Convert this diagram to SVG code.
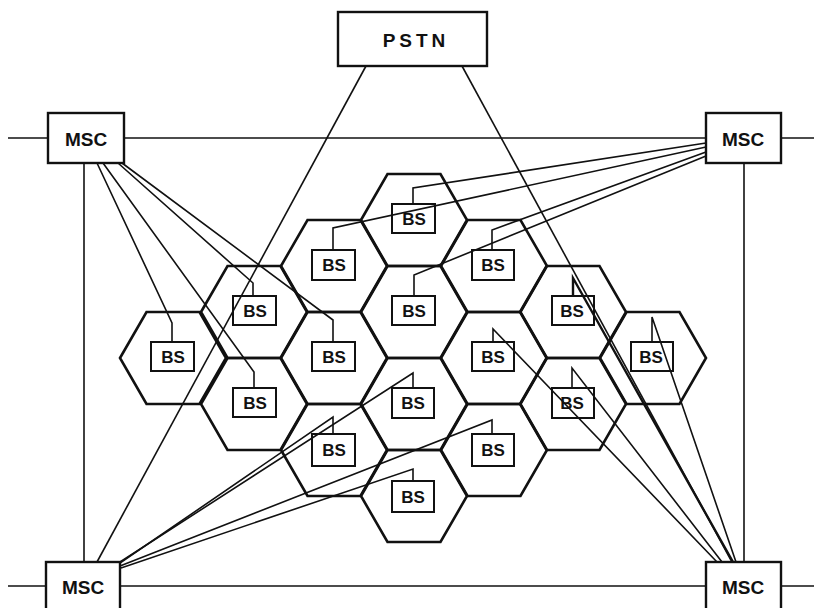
<svg xmlns="http://www.w3.org/2000/svg" xmlns:xlink="http://www.w3.org/1999/xlink" width="814" height="608" viewBox="0 0 814 608">
<style>
.box{fill:#fff;stroke:#111;stroke-width:2.4}
.hex{fill:none;stroke:#111;stroke-width:2.6;stroke-linejoin:miter}
.bs{fill:#fff;stroke:#111;stroke-width:2}
.ln{fill:none;stroke:#111;stroke-width:1.6}
.lnb{fill:none;stroke:#111;stroke-width:2.4}
.t{font-family:"Liberation Sans",Arial,sans-serif;font-weight:bold;fill:#111;text-anchor:middle}
.tb{font-size:17px}
.tm{font-size:19px}
.tp{font-size:19px;letter-spacing:4px}
</style>
<defs>
<path id="hx" d="M-53,0 L-26.5,-46 L26.5,-46 L53,0 L26.5,46 L-26.5,46 Z"/>
</defs>
<rect width="814" height="608" fill="#fff"/>

<!-- hexagonal cells -->
<g id="cells">
<use xlink:href="#hx" href="#hx" class="hex" x="173" y="358"/>
<use xlink:href="#hx" href="#hx" class="hex" x="254" y="312"/>
<use xlink:href="#hx" href="#hx" class="hex" x="254" y="404"/>
<use xlink:href="#hx" href="#hx" class="hex" x="334" y="266"/>
<use xlink:href="#hx" href="#hx" class="hex" x="334" y="358"/>
<use xlink:href="#hx" href="#hx" class="hex" x="334" y="450"/>
<use xlink:href="#hx" href="#hx" class="hex" x="414" y="220"/>
<use xlink:href="#hx" href="#hx" class="hex" x="414" y="312"/>
<use xlink:href="#hx" href="#hx" class="hex" x="414" y="404"/>
<use xlink:href="#hx" href="#hx" class="hex" x="414" y="496"/>
<use xlink:href="#hx" href="#hx" class="hex" x="494" y="266"/>
<use xlink:href="#hx" href="#hx" class="hex" x="494" y="358"/>
<use xlink:href="#hx" href="#hx" class="hex" x="494" y="450"/>
<use xlink:href="#hx" href="#hx" class="hex" x="573" y="312"/>
<use xlink:href="#hx" href="#hx" class="hex" x="573" y="404"/>
<use xlink:href="#hx" href="#hx" class="hex" x="653" y="358"/>
</g>

<!-- base stations -->
<g id="bs-173-358"><rect class="bs" x="151" y="342" width="43" height="29"/><text class="t tb" x="173" y="363">BS</text></g>
<g id="bs-254-312"><rect class="bs" x="233" y="296" width="43" height="29"/><text class="t tb" x="255" y="317">BS</text></g>
<g id="bs-254-404"><rect class="bs" x="233" y="388" width="43" height="29"/><text class="t tb" x="255" y="409">BS</text></g>
<g id="bs-334-266"><rect class="bs" x="312" y="250" width="43" height="30"/><text class="t tb" x="334" y="271">BS</text></g>
<g id="bs-334-358"><rect class="bs" x="312" y="342" width="43" height="29"/><text class="t tb" x="334" y="363">BS</text></g>
<g id="bs-334-450"><rect class="bs" x="312" y="434" width="43" height="32"/><text class="t tb" x="334" y="456">BS</text></g>
<g id="bs-414-220"><rect class="bs" x="392" y="204" width="43" height="29"/><text class="t tb" x="414" y="225">BS</text></g>
<g id="bs-414-312"><rect class="bs" x="392" y="296" width="43" height="29"/><text class="t tb" x="414" y="317">BS</text></g>
<g id="bs-414-404"><rect class="bs" x="392" y="388" width="42" height="30"/><text class="t tb" x="413" y="409">BS</text></g>
<g id="bs-414-496"><rect class="bs" x="392" y="481" width="42" height="31"/><text class="t tb" x="413" y="503">BS</text></g>
<g id="bs-494-266"><rect class="bs" x="472" y="250" width="42" height="30"/><text class="t tb" x="493" y="271">BS</text></g>
<g id="bs-494-358"><rect class="bs" x="472" y="342" width="42" height="29"/><text class="t tb" x="493" y="363">BS</text></g>
<g id="bs-494-450"><rect class="bs" x="472" y="434" width="42" height="32"/><text class="t tb" x="493" y="456">BS</text></g>
<g id="bs-573-312"><rect class="bs" x="552" y="296" width="42" height="29"/><text class="t tb" x="572" y="317">BS</text></g>
<g id="bs-573-404"><rect class="bs" x="552" y="388" width="42" height="30"/><text class="t tb" x="572" y="409">BS</text></g>
<g id="bs-653-358"><rect class="bs" x="631" y="342" width="42" height="29"/><text class="t tb" x="651" y="363">BS</text></g>

<!-- connectors -->
<g id="connectors">
<!-- MSC ring -->
<line class="ln" x1="8" y1="138" x2="48" y2="138"/>
<line class="ln" x1="124" y1="138" x2="706" y2="138"/>
<line class="ln" x1="781" y1="138" x2="814" y2="138"/>
<line class="ln" x1="8" y1="586" x2="46" y2="586"/>
<line class="ln" x1="120" y1="586" x2="706" y2="586"/>
<line class="ln" x1="781" y1="586" x2="814" y2="586"/>
<line class="ln" x1="84" y1="163" x2="84" y2="562"/>
<line class="ln" x1="744" y1="163" x2="744" y2="562"/>
<!-- PSTN links -->
<line class="ln" x1="366" y1="66" x2="97" y2="562"/>
<line class="ln" x1="462" y1="66" x2="732" y2="562"/>
<!-- top-left MSC -->
<polyline class="ln" points="172,342 172,323 97,163"/>
<polyline class="ln" points="254,388 254,372 103,163"/>
<polyline class="ln" points="253,296 253,283 118,163"/>
<polyline class="ln" points="333,342 333,320 122,163"/>
<!-- top-right MSC -->
<polyline class="ln" points="413,204 413,188 706,143"/>
<polyline class="ln" points="333,250 333,228 706,147"/>
<polyline class="ln" points="492,250 492,230 706,152"/>
<polyline class="ln" points="414,296 414,275 706,156"/>
<!-- bottom-left MSC -->
<polyline class="ln" points="413,388 413,373 120,562"/>
<polyline class="ln" points="333,434 333,417 120,563"/>
<polyline class="ln" points="492,434 492,420 120,566"/>
<polyline class="ln" points="413,481 413,469 121,568"/>
<!-- bottom-right MSC -->
<polyline class="lnb" points="573,296 573,278 733,562"/>
<polyline class="ln" points="493,342 493,329 717,562"/>
<polyline class="ln" points="572,388 572,368 722,562"/>
<polyline class="ln" points="652,342 652,317 736,562"/>
</g>

<!-- switching centres -->
<g id="pstn"><rect class="box" x="338" y="12" width="149" height="54"/><text class="t tp" x="416" y="47">PSTN</text></g>
<g id="msc-tl"><rect class="box" x="48" y="113" width="76" height="50"/><text class="t tm" x="86" y="146">MSC</text></g>
<g id="msc-tr"><rect class="box" x="706" y="113" width="75" height="50"/><text class="t tm" x="743" y="146">MSC</text></g>
<g id="msc-bl"><rect class="box" x="46" y="562" width="74" height="52"/><text class="t tm" x="83" y="594">MSC</text></g>
<g id="msc-br"><rect class="box" x="706" y="562" width="75" height="52"/><text class="t tm" x="743" y="594">MSC</text></g>
</svg>
